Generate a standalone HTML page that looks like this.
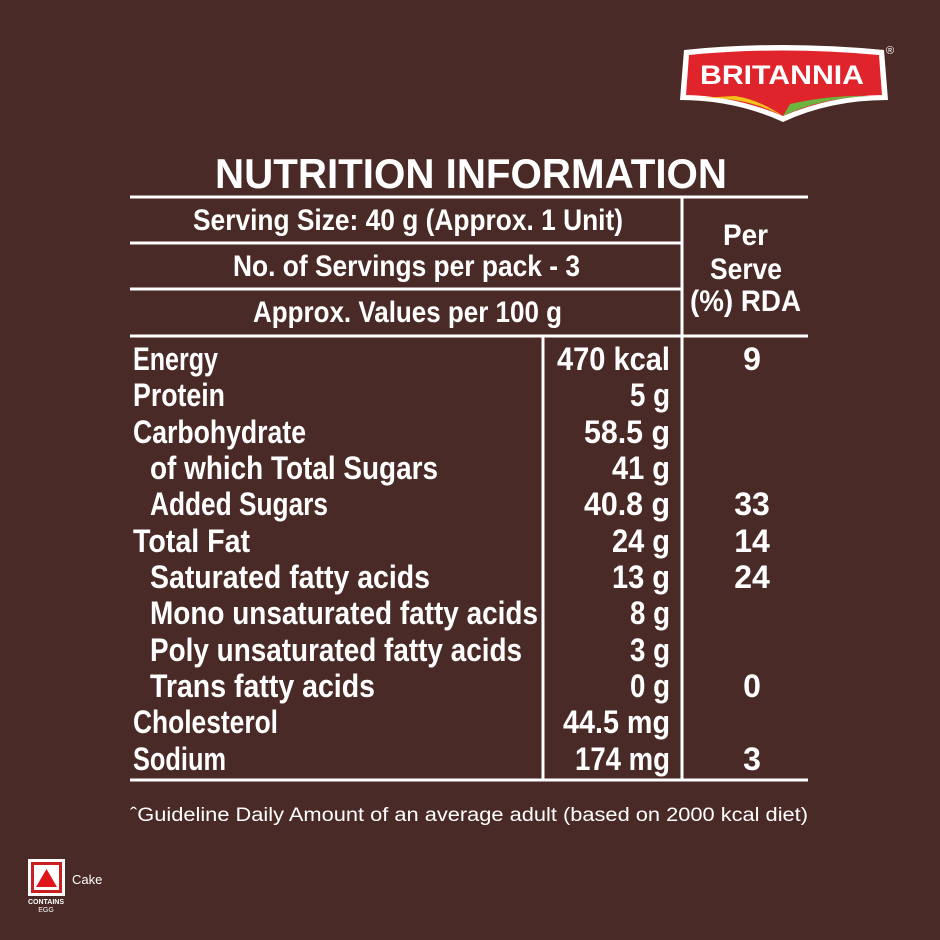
<!DOCTYPE html>
<html><head><meta charset="utf-8"><style>
html,body{margin:0;padding:0;background:#4a2a27;}
svg{display:block}
text{font-family:"Liberation Sans",sans-serif;fill:#fff;}
</style></head><body>
<svg width="940" height="940" viewBox="0 0 940 940" xmlns="http://www.w3.org/2000/svg">
<rect width="940" height="940" fill="#4a2a27"/>
<path d="M684 50 Q780 40 884 50 L888 100 Q830 100 783 122 Q735 100 680 100 Z" fill="#fff"/>
<path d="M689 55 Q780 46 879 55 L882 95 Q830 96 783 116 Q735 96 686 95 Z" fill="#e0242b"/>
<path d="M700 98 Q745 96 783 116 Q760 100 735 96 Z" fill="#f5c21b"/>
<path d="M783 116 Q820 98 870 96 Q830 95 790 104 Z" fill="#6cb33f"/>
<text x="700" y="84" font-size="27" font-weight="bold" textLength="164" lengthAdjust="spacingAndGlyphs">BRITANNIA</text>
<text x="886" y="54" font-size="11">®</text>
<text x="215" y="188" font-size="42" font-weight="bold" textLength="512" lengthAdjust="spacingAndGlyphs">NUTRITION INFORMATION</text>
<g stroke="#fff" stroke-width="3">
<line x1="130" y1="197" x2="808" y2="197"/>
<line x1="130" y1="243" x2="682" y2="243"/>
<line x1="130" y1="289" x2="682" y2="289"/>
<line x1="130" y1="336" x2="808" y2="336"/>
<line x1="130" y1="780" x2="808" y2="780"/>
<line x1="682" y1="197" x2="682" y2="780"/>
<line x1="543" y1="336" x2="543" y2="780"/>
</g>
<g font-size="30" font-weight="bold">
<text x="193" y="230" textLength="430" lengthAdjust="spacingAndGlyphs">Serving Size: 40 g (Approx. 1 Unit)</text>
<text x="233" y="276" textLength="347" lengthAdjust="spacingAndGlyphs">No. of Servings per pack - 3</text>
<text x="253" y="322" textLength="309" lengthAdjust="spacingAndGlyphs">Approx. Values per 100 g</text>
<text x="723" y="245" textLength="45" lengthAdjust="spacingAndGlyphs">Per</text>
<text x="710" y="279" textLength="72" lengthAdjust="spacingAndGlyphs">Serve</text>
<text x="690" y="311" textLength="111" lengthAdjust="spacingAndGlyphs">(%) RDA</text>
</g>
<g font-size="32" font-weight="bold">
<text x="133" y="370" textLength="85" lengthAdjust="spacingAndGlyphs">Energy</text>
<text x="133" y="406" textLength="92" lengthAdjust="spacingAndGlyphs">Protein</text>
<text x="133" y="443" textLength="173" lengthAdjust="spacingAndGlyphs">Carbohydrate</text>
<text x="150" y="479" textLength="288" lengthAdjust="spacingAndGlyphs">of which Total Sugars</text>
<text x="150" y="515" textLength="178" lengthAdjust="spacingAndGlyphs">Added Sugars</text>
<text x="133" y="552" textLength="117" lengthAdjust="spacingAndGlyphs">Total Fat</text>
<text x="150" y="588" textLength="280" lengthAdjust="spacingAndGlyphs">Saturated fatty acids</text>
<text x="150" y="624" textLength="388" lengthAdjust="spacingAndGlyphs">Mono unsaturated fatty acids</text>
<text x="150" y="661" textLength="372" lengthAdjust="spacingAndGlyphs">Poly unsaturated fatty acids</text>
<text x="150" y="697" textLength="225" lengthAdjust="spacingAndGlyphs">Trans fatty acids</text>
<text x="133" y="733" textLength="145" lengthAdjust="spacingAndGlyphs">Cholesterol</text>
<text x="133" y="770" textLength="93" lengthAdjust="spacingAndGlyphs">Sodium</text>
<text x="557" y="370" textLength="113" lengthAdjust="spacingAndGlyphs">470 kcal</text>
<text x="630" y="406" textLength="40" lengthAdjust="spacingAndGlyphs">5 g</text>
<text x="584" y="443" textLength="86" lengthAdjust="spacingAndGlyphs">58.5 g</text>
<text x="612" y="479" textLength="58" lengthAdjust="spacingAndGlyphs">41 g</text>
<text x="584" y="515" textLength="86" lengthAdjust="spacingAndGlyphs">40.8 g</text>
<text x="612" y="552" textLength="58" lengthAdjust="spacingAndGlyphs">24 g</text>
<text x="612" y="588" textLength="58" lengthAdjust="spacingAndGlyphs">13 g</text>
<text x="630" y="624" textLength="40" lengthAdjust="spacingAndGlyphs">8 g</text>
<text x="630" y="661" textLength="40" lengthAdjust="spacingAndGlyphs">3 g</text>
<text x="630" y="697" textLength="40" lengthAdjust="spacingAndGlyphs">0 g</text>
<text x="563" y="733" textLength="107" lengthAdjust="spacingAndGlyphs">44.5 mg</text>
<text x="575" y="770" textLength="95" lengthAdjust="spacingAndGlyphs">174 mg</text>
<text x="752" y="370" text-anchor="middle">9</text>
<text x="752" y="515" text-anchor="middle">33</text>
<text x="752" y="552" text-anchor="middle">14</text>
<text x="752" y="588" text-anchor="middle">24</text>
<text x="752" y="697" text-anchor="middle">0</text>
<text x="752" y="770" text-anchor="middle">3</text>
</g>
<text x="130" y="821" font-size="19" textLength="678" lengthAdjust="spacingAndGlyphs">ˆGuideline Daily Amount of an average adult (based on 2000 kcal diet)</text>
<rect x="28" y="859" width="37" height="37" fill="#fff"/>
<rect x="31" y="862" width="31" height="31" fill="#c9201f"/>
<rect x="34" y="865" width="25" height="25" fill="#fff"/>
<polygon points="46.5,869 57,887 36,887" fill="#e0141b"/>
<text x="46" y="904" font-size="7" font-weight="bold" text-anchor="middle">CONTAINS</text>
<text x="46" y="912" font-size="7" text-anchor="middle">EGG</text>
<text x="72" y="884" font-size="13">Cake</text>
</svg>
</body></html>
